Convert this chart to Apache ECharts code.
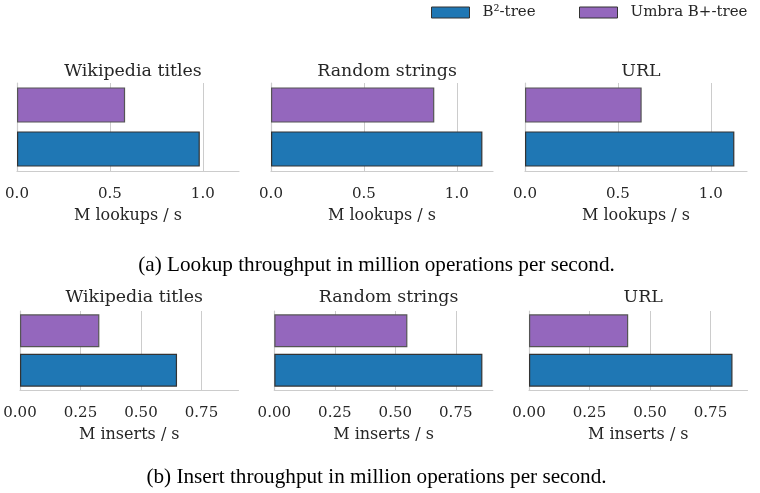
<!DOCTYPE html>
<html><head><meta charset="utf-8">
<script src="https://cdn.jsdelivr.net/npm/echarts@6/dist/echarts.min.js"></script>
<style>html,body{margin:0;padding:0;background:#fff}#c{width:760px;height:493px}</style>
</head><body><div id="c"></div>
<script>
const seriesNames = ['B²-tree', 'Umbra B+-tree'];
const datasets = ['Wikipedia titles', 'Random strings', 'URL'];
const lookupB2 = [0.984, 1.138, 1.127];
const lookupUmbra = [0.582, 0.879, 0.628];
const insertB2 = [0.649, 0.860, 0.841];
const insertUmbra = [0.328, 0.550, 0.410];
const lookupTicks = ['0.0', '0.5', '1.0'];
const insertTicks = ['0.00', '0.25', '0.50', '0.75'];
const lookupAxisName = 'M lookups / s';
const insertAxisName = 'M inserts / s';
const captions = ['(a) Lookup throughput in million operations per second.', '(b) Insert throughput in million operations per second.'];

const colors = ['#1f77b4', '#9467bd'];
const serif = '"DejaVu Serif", serif';
const txt = '#262626';

const layout = [
  {top: 83, height: 88, lefts: [17, 271, 525], width: 222, max: 1.195, interval: 0.5, ticks: lookupTicks, name: lookupAxisName, b2: lookupB2, um: lookupUmbra, gap: '20%', titleTop: 58},
  {top: 311, height: 79, lefts: [20, 274.3, 529], width: 218.5, max: 0.903, interval: 0.25, ticks: insertTicks, name: insertAxisName, b2: insertB2, um: insertUmbra, gap: '17%', titleTop: 284}
];

const grid = [], xAxis = [], yAxis = [], series = [], title = [];
let gi = 0;
layout.forEach((row) => {
  datasets.forEach((ds, j) => {
    grid.push({left: row.lefts[j], top: row.top, width: row.width, height: row.height, containLabel: false});
    xAxis.push({
      type: 'value', gridIndex: gi, min: 0, max: row.max, interval: row.interval,
      name: row.name, nameLocation: 'middle', nameGap: 37,
      nameTextStyle: {fontFamily: serif, fontSize: 16, color: txt},
      axisLine: {show: true, lineStyle: {color: '#cccccc', width: 1.2}},
      axisTick: {show: false},
      axisLabel: {fontFamily: serif, fontSize: 15, color: txt, margin: 15.5, showMaxLabel: false,
        formatter: (v) => { const s = v.toFixed(row.interval === 0.5 ? 1 : 2); return row.ticks.includes(s) ? s : ''; }},
      splitLine: {show: true, showMinLine: false, showMaxLine: false, lineStyle: {color: '#cccccc', width: 1}}
    });
    yAxis.push({
      type: 'category', gridIndex: gi, data: seriesNames,
      axisLine: {show: true, lineStyle: {color: '#cccccc', width: 1.2}},
      axisTick: {show: false}, axisLabel: {show: false}, splitLine: {show: false}
    });
    series.push({
      name: seriesNames[0], type: 'bar', xAxisIndex: gi, yAxisIndex: gi,
      data: [row.b2[j], '-'], barGap: '-100%', barCategoryGap: row.gap,
      itemStyle: {color: colors[0], borderColor: '#333333', borderWidth: 1.2}, silent: true
    });
    series.push({
      name: seriesNames[1], type: 'bar', xAxisIndex: gi, yAxisIndex: gi,
      data: ['-', row.um[j]], barGap: '-100%', barCategoryGap: row.gap,
      itemStyle: {color: colors[1], borderColor: '#555555', borderWidth: 1.2}, silent: true
    });
    title.push({
      text: ds, left: row.lefts[j] + row.width / 2, top: row.titleTop, textAlign: 'center',
      textStyle: {fontFamily: serif, fontSize: 17.4, fontWeight: 'normal', color: txt}
    });
    gi++;
  });
});
title.push({text: captions[0], left: 371.5, top: 250, textAlign: 'center',
  textStyle: {fontFamily: '"Liberation Serif", serif', fontSize: 21.2, fontWeight: 'normal', color: '#000'}});
title.push({text: captions[1], left: 371.5, top: 462, textAlign: 'center',
  textStyle: {fontFamily: '"Liberation Serif", serif', fontSize: 21.2, fontWeight: 'normal', color: '#000'}});

const legendCommon = {
  top: 0, itemWidth: 38, itemHeight: 11, icon: 'rect', orient: 'horizontal',
  textStyle: {fontFamily: serif, fontSize: 15, color: txt, padding: [0, 0, 0, 8]},
  itemStyle: {borderColor: '#333', borderWidth: 1}
};

const chart = echarts.init(document.getElementById('c'), null, {renderer: 'canvas'});
chart.setOption({
  animation: false,
  backgroundColor: '#fff',
  title: title,
  legend: [
    Object.assign({}, legendCommon, {data: [seriesNames[0]], left: 426}),
    Object.assign({}, legendCommon, {data: [seriesNames[1]], left: 574})
  ],
  grid: grid, xAxis: xAxis, yAxis: yAxis, series: series
});
</script></body></html>
